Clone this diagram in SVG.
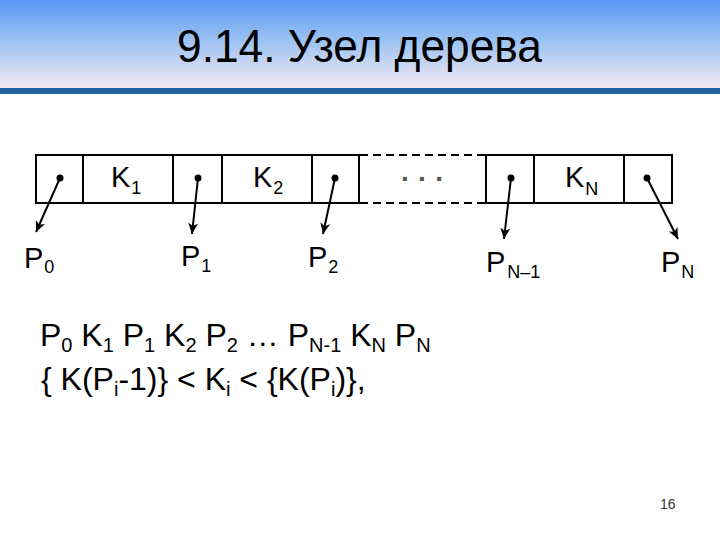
<svg xmlns="http://www.w3.org/2000/svg" width="720" height="540" viewBox="0 0 720 540">
<defs>
<linearGradient id="hdr" x1="0" y1="0" x2="0" y2="1">
<stop offset="0" stop-color="#5898f6"/>
<stop offset="0.45" stop-color="#9ac1f2"/>
<stop offset="1" stop-color="#f4eaf3"/>
</linearGradient>
<marker id="ah" markerUnits="userSpaceOnUse" markerWidth="12" markerHeight="10" refX="11" refY="5" orient="auto">
<path d="M0,0 L11,5 L0,10 L3,5 z" fill="#000"/>
</marker>
<style>
.cell{fill:none;stroke:#000;stroke-width:2}
.dash{fill:none;stroke:#000;stroke-width:2;stroke-dasharray:8 5}
.lbl{font-family:"Liberation Sans",Arial,sans-serif;font-size:29px;fill:#000}
.frm{font-family:"Liberation Sans",Arial,sans-serif;font-size:32px;fill:#000}
.sub{font-size:18px}
.fsub{font-size:20px}
.dot{fill:#000}
.conn{stroke:#000;stroke-width:2;fill:none;marker-end:url(#ah)}
</style>
</defs>
<rect x="0" y="0" width="720" height="540" fill="#fff"/>
<rect x="0" y="0" width="720" height="88" fill="url(#hdr)"/>
<rect x="0" y="88" width="720" height="6" fill="#1f62a2"/>
<text x="177" y="62" font-family="'Liberation Sans',Arial,sans-serif" font-size="46" fill="#000" textLength="365" lengthAdjust="spacingAndGlyphs">9.14. Узел дерева</text>

<g id="cell-p0"><rect class="cell" x="36" y="155" width="47" height="48"/><circle class="dot" cx="60" cy="178" r="3.5"/></g>
<g id="cell-k1"><rect class="cell" x="83" y="155" width="90" height="48"/><text class="lbl" x="111" y="187">K<tspan class="sub" dx="1" dy="7">1</tspan></text></g>
<g id="cell-p1"><rect class="cell" x="173" y="155" width="49" height="48"/><circle class="dot" cx="198" cy="178" r="3.5"/></g>
<g id="cell-k2"><rect class="cell" x="222" y="155" width="90" height="48"/><text class="lbl" x="253" y="187">K<tspan class="sub" dx="1" dy="7">2</tspan></text></g>
<g id="cell-p2"><rect class="cell" x="312" y="155" width="47" height="48"/><circle class="dot" cx="335" cy="178" r="3.5"/></g>
<g id="cell-dots"><line class="dash" x1="360" y1="155" x2="486" y2="155"/><line class="dash" x1="360" y1="203" x2="486" y2="203"/><text x="401" y="188" font-family="'Liberation Sans',Arial,sans-serif" font-size="28" font-weight="bold" fill="#555">· · ·</text></g>
<g id="cell-pn1"><rect class="cell" x="486" y="155" width="48" height="48"/><circle class="dot" cx="511" cy="178" r="3.5"/></g>
<g id="cell-kn"><rect class="cell" x="534" y="155" width="90" height="48"/><text class="lbl" x="565" y="187">K<tspan class="sub" dx="1" dy="8">N</tspan></text></g>
<g id="cell-pn"><rect class="cell" x="624" y="155" width="48" height="48"/><circle class="dot" cx="647" cy="178" r="3.5"/></g>

<g id="label-p0"><text class="lbl" x="24" y="268">P<tspan class="sub" dx="1" dy="5">0</tspan></text></g>
<g id="label-p1"><text class="lbl" x="181" y="266">P<tspan class="sub" dx="1" dy="6">1</tspan></text></g>
<g id="label-p2"><text class="lbl" x="308" y="267">P<tspan class="sub" dx="1" dy="6">2</tspan></text></g>
<g id="label-pn1"><text class="lbl" x="486" y="272">P<tspan class="sub" dx="2" dy="6">N–1</tspan></text></g>
<g id="label-pn"><text class="lbl" x="661" y="272">P<tspan class="sub" dx="1" dy="6">N</tspan></text></g>

<g id="connectors">
<line class="conn" x1="60" y1="178" x2="36" y2="232"/>
<line class="conn" x1="198" y1="178" x2="192" y2="234"/>
<line class="conn" x1="335" y1="178" x2="323" y2="234"/>
<line class="conn" x1="511" y1="178" x2="504" y2="239"/>
<line class="conn" x1="647" y1="178" x2="678" y2="239"/>
</g>

<g id="formula">
<text class="frm" x="40" y="346">P<tspan class="fsub" dy="6">0</tspan><tspan dy="-6"> K</tspan><tspan class="fsub" dy="6">1</tspan><tspan dy="-6"> P</tspan><tspan class="fsub" dy="6">1</tspan><tspan dy="-6"> K</tspan><tspan class="fsub" dy="6">2</tspan><tspan dy="-6"> P</tspan><tspan class="fsub" dy="6">2</tspan><tspan dy="-6"> … P</tspan><tspan class="fsub" dy="6">N-1</tspan><tspan dy="-6"> K</tspan><tspan class="fsub" dy="6">N</tspan><tspan dy="-6"> P</tspan><tspan class="fsub" dy="6">N</tspan></text>
<text class="frm" x="41" y="390">{ K(P<tspan class="fsub" dy="6">i</tspan><tspan dy="-6">-1)} &lt; K</tspan><tspan class="fsub" dy="6">i</tspan><tspan dy="-6"> &lt; {K(P</tspan><tspan class="fsub" dy="6">i</tspan><tspan dy="-6">)},</tspan></text>
</g>

<text x="660" y="509" font-family="'Liberation Sans',Arial,sans-serif" font-size="14" fill="#333">16</text>
</svg>
